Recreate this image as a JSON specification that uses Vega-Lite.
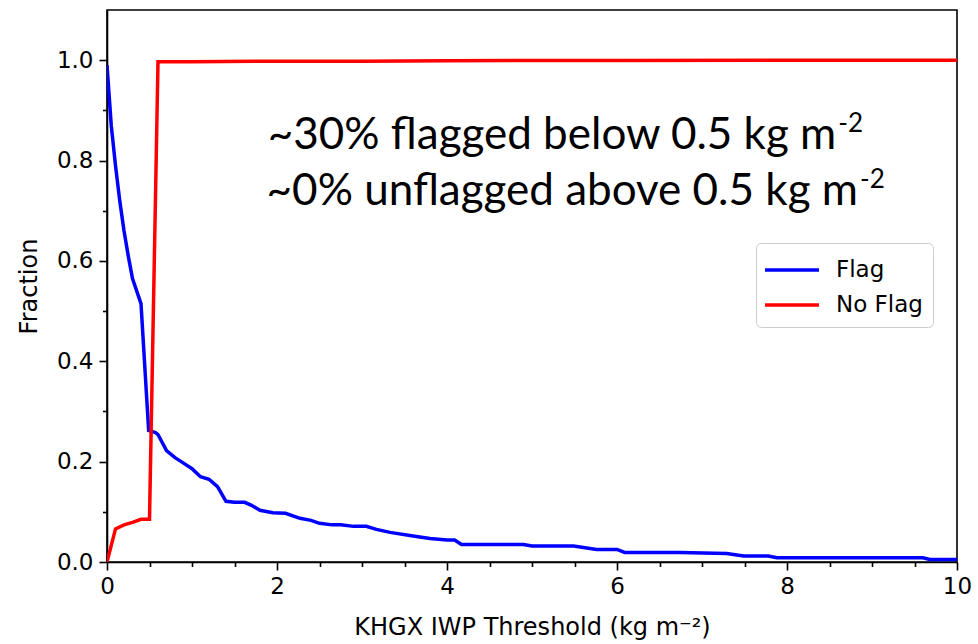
{
  "$schema": "https://vega.github.io/schema/vega-lite/v6.json",
  "width": 850,
  "height": 552,
  "autosize": {"type": "none"},
  "padding": {"left": 107, "top": 10, "right": 21, "bottom": 82},
  "background": "white",
  "config": {
    "view": {"stroke": "black", "strokeWidth": 1.6},
    "axis": {
      "grid": false,
      "domainColor": "black",
      "domainWidth": 1.6,
      "tickColor": "black",
      "tickWidth": 1.6,
      "labelFont": "DejaVu Sans",
      "labelFontSize": 23,
      "labelColor": "black",
      "titleFont": "DejaVu Sans",
      "titleFontSize": 24,
      "titleFontWeight": "normal",
      "titleColor": "black"
    }
  },
  "datasets": {
    "curves": [
      {"x": 0, "frac": 0.99, "series": "Flag"},
      {"x": 0.05, "frac": 0.87, "series": "Flag"},
      {"x": 0.1, "frac": 0.79, "series": "Flag"},
      {"x": 0.15, "frac": 0.72, "series": "Flag"},
      {"x": 0.2, "frac": 0.66, "series": "Flag"},
      {"x": 0.25, "frac": 0.61, "series": "Flag"},
      {"x": 0.3, "frac": 0.565, "series": "Flag"},
      {"x": 0.4, "frac": 0.515, "series": "Flag"},
      {"x": 0.49, "frac": 0.262, "series": "Flag"},
      {"x": 0.57, "frac": 0.258, "series": "Flag"},
      {"x": 0.6, "frac": 0.254, "series": "Flag"},
      {"x": 0.7, "frac": 0.222, "series": "Flag"},
      {"x": 0.8, "frac": 0.208, "series": "Flag"},
      {"x": 0.9, "frac": 0.197, "series": "Flag"},
      {"x": 1.0, "frac": 0.186, "series": "Flag"},
      {"x": 1.1, "frac": 0.17, "series": "Flag"},
      {"x": 1.2, "frac": 0.165, "series": "Flag"},
      {"x": 1.3, "frac": 0.15, "series": "Flag"},
      {"x": 1.4, "frac": 0.121, "series": "Flag"},
      {"x": 1.5, "frac": 0.119, "series": "Flag"},
      {"x": 1.62, "frac": 0.119, "series": "Flag"},
      {"x": 1.7, "frac": 0.113, "series": "Flag"},
      {"x": 1.8, "frac": 0.103, "series": "Flag"},
      {"x": 1.95, "frac": 0.098, "series": "Flag"},
      {"x": 2.1, "frac": 0.097, "series": "Flag"},
      {"x": 2.27, "frac": 0.087, "series": "Flag"},
      {"x": 2.4, "frac": 0.083, "series": "Flag"},
      {"x": 2.5, "frac": 0.077, "series": "Flag"},
      {"x": 2.65, "frac": 0.074, "series": "Flag"},
      {"x": 2.75, "frac": 0.074, "series": "Flag"},
      {"x": 2.9, "frac": 0.071, "series": "Flag"},
      {"x": 3.05, "frac": 0.071, "series": "Flag"},
      {"x": 3.17, "frac": 0.065, "series": "Flag"},
      {"x": 3.33, "frac": 0.059, "series": "Flag"},
      {"x": 3.6, "frac": 0.052, "series": "Flag"},
      {"x": 3.8, "frac": 0.047, "series": "Flag"},
      {"x": 4.0, "frac": 0.044, "series": "Flag"},
      {"x": 4.09, "frac": 0.044, "series": "Flag"},
      {"x": 4.17, "frac": 0.035, "series": "Flag"},
      {"x": 4.9, "frac": 0.035, "series": "Flag"},
      {"x": 5.0, "frac": 0.032, "series": "Flag"},
      {"x": 5.49, "frac": 0.032, "series": "Flag"},
      {"x": 5.76, "frac": 0.025, "series": "Flag"},
      {"x": 6.0, "frac": 0.025, "series": "Flag"},
      {"x": 6.09, "frac": 0.019, "series": "Flag"},
      {"x": 6.74, "frac": 0.019, "series": "Flag"},
      {"x": 7.29, "frac": 0.017, "series": "Flag"},
      {"x": 7.49, "frac": 0.012, "series": "Flag"},
      {"x": 7.78, "frac": 0.012, "series": "Flag"},
      {"x": 7.88, "frac": 0.0085, "series": "Flag"},
      {"x": 9.6, "frac": 0.0085, "series": "Flag"},
      {"x": 9.68, "frac": 0.005, "series": "Flag"},
      {"x": 10, "frac": 0.005, "series": "Flag"},
      {"x": 0, "frac": 0.0, "series": "No Flag"},
      {"x": 0.1, "frac": 0.066, "series": "No Flag"},
      {"x": 0.2, "frac": 0.074, "series": "No Flag"},
      {"x": 0.3, "frac": 0.079, "series": "No Flag"},
      {"x": 0.4, "frac": 0.085, "series": "No Flag"},
      {"x": 0.5, "frac": 0.085, "series": "No Flag"},
      {"x": 0.6, "frac": 0.997, "series": "No Flag"},
      {"x": 1.0, "frac": 0.997, "series": "No Flag"},
      {"x": 2.0, "frac": 0.998, "series": "No Flag"},
      {"x": 3.0, "frac": 0.998, "series": "No Flag"},
      {"x": 4.0, "frac": 0.999, "series": "No Flag"},
      {"x": 6.0, "frac": 0.9995, "series": "No Flag"},
      {"x": 8.0, "frac": 1.0, "series": "No Flag"},
      {"x": 10.0, "frac": 1.0, "series": "No Flag"}
    ],
    "notes": [
      {"label": "~30% flagged below 0.5 kg m", "sup": "-2", "x": 8.58, "y": 0.823, "ysup": 0.857},
      {"label": "~0% unflagged above 0.5 kg m", "sup": "-2", "x": 8.835, "y": 0.711, "ysup": 0.745}
    ]
  },
  "layer": [
    {
      "data": {"name": "curves"},
      "mark": {"type": "line", "strokeWidth": 3.5, "clip": true},
      "encoding": {
        "x": {
          "field": "x",
          "type": "quantitative",
          "scale": {"domain": [0, 10], "nice": false, "zero": false},
          "axis": {
            "title": "KHGX IWP Threshold (kg m⁻²)",
            "titlePadding": 17,
            "values": [0, 0.5, 1, 1.5, 2, 2.5, 3, 3.5, 4, 4.5, 5, 5.5, 6, 6.5, 7, 7.5, 8, 8.5, 9, 9.5, 10],
            "labelExpr": "datum.value % 2 === 0 ? format(datum.value, 'd') : ''",
            "tickSize": {"condition": {"test": "datum.value % 2 === 0", "value": 8}, "value": 4.5},
            "labelPadding": 5,
            "labelFlush": false,
            "labelOverlap": false
          }
        },
        "y": {
          "field": "frac",
          "type": "quantitative",
          "scale": {"domain": [0, 1.1], "nice": false},
          "axis": {
            "title": "Fraction",
            "titlePadding": 15,
            "values": [0, 0.05, 0.1, 0.15, 0.2, 0.25, 0.3, 0.35, 0.4, 0.45, 0.5, 0.55, 0.6, 0.65, 0.7, 0.75, 0.8, 0.85, 0.9, 0.95, 1.0, 1.05],
            "labelExpr": "abs(datum.value*5 - round(datum.value*5)) < 0.000001 ? format(datum.value, '.1f') : ''",
            "tickSize": {"condition": {"test": "abs(datum.value*5 - round(datum.value*5)) < 0.000001", "value": 8}, "value": 4.5},
            "labelPadding": 6,
            "labelOverlap": false,
            "labelFlush": false
          }
        },
        "color": {
          "field": "series",
          "type": "nominal",
          "scale": {"domain": ["Flag", "No Flag"], "range": ["#0000ff", "#ff0000"]},
          "legend": {
            "title": null,
            "orient": "none",
            "legendX": 649,
            "legendY": 233,
            "padding": 10,
            "strokeColor": "#cccccc",
            "fillColor": "white",
            "cornerRadius": 5,
            "symbolType": "M-1.8,0H1.8",
            "symbolSize": 900,
            "symbolStrokeWidth": 3.5,
            "symbolOffset": 9,
            "labelOffset": 27,
            "labelFont": "DejaVu Sans",
            "labelFontSize": 23,
            "labelColor": "black",
            "rowPadding": 6
          }
        }
      }
    },
    {
      "data": {"name": "notes"},
      "mark": {"type": "text", "font": "Lato", "fontSize": 44, "align": "right", "baseline": "alphabetic", "color": "black"},
      "encoding": {
        "x": {"field": "x", "type": "quantitative"},
        "y": {"field": "y", "type": "quantitative"},
        "text": {"field": "label"}
      }
    },
    {
      "data": {"name": "notes"},
      "mark": {"type": "text", "font": "Lato", "fontSize": 26, "align": "left", "baseline": "alphabetic", "dx": 2, "color": "black"},
      "encoding": {
        "x": {"field": "x", "type": "quantitative"},
        "y": {"field": "ysup", "type": "quantitative"},
        "text": {"field": "sup"}
      }
    }
  ]
}
